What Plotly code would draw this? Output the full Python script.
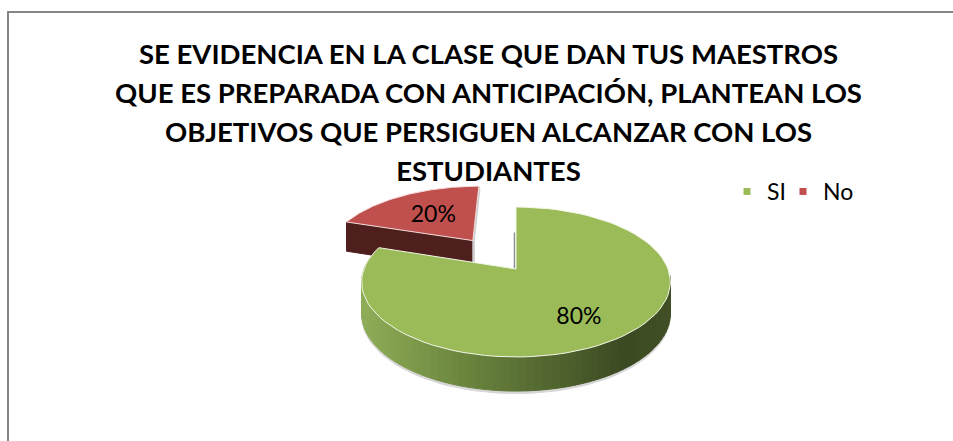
import math
import numpy as np
import plotly.graph_objects as go

# ---- data ----
categories = ["SI", "No"]
values = [80, 20]
top_colors = ["#9BBB59", "#C0504D"]
title_lines = [
    "SE EVIDENCIA EN LA CLASE QUE DAN TUS MAESTROS",
    "QUE ES PREPARADA CON ANTICIPACIÓN, PLANTEAN LOS",
    "OBJETIVOS QUE PERSIGUEN ALCANZAR CON LOS",
    "ESTUDIANTES",
]

# ---- projection of the tilted pie (perspective) ----
CX, CY, RX = 516.0, 269.0, 152.0
PERSP, TILT = 0.1733, -26.1
DEPTH = 31.0
PULL = 0.518


def project(u, v, drop=0.0):
    w = 1 + PERSP * v
    return CX + RX * u / w, (TILT * v + CY) / w + drop * DEPTH / math.sqrt(w)


def arc(a0, a1, ou=0.0, ov=0.0, drop=0.0, n=80):
    pts = [project(math.sin(t) + ou, math.cos(t) + ov, drop)
           for t in np.linspace(a0, a1, n)]
    return [p[0] for p in pts], [p[1] for p in pts]


def poly(xs, ys, color, line=None, width=1):
    return go.Scatter(x=xs, y=ys, mode="lines", fill="toself", fillcolor=color,
                      line=dict(color=line or color, width=width),
                      hoverinfo="skip", showlegend=False)


total = sum(values)
a_green = 2 * math.pi * values[0] / total
mid_red = a_green + math.pi * values[1] / total
ou, ov = PULL * math.sin(mid_red), PULL * math.cos(mid_red)

fig = go.Figure()

# --- exploded slice (drawn first, the big slice overlaps it) ---
ax, ay = project(ou, ov)
bx, by = project(ou, ov, 1)
lx, ly = project(math.sin(a_green) + ou, math.cos(a_green) + ov)
lbx, lby = project(math.sin(a_green) + ou, math.cos(a_green) + ov, 1)
fig.add_trace(poly([ax, lx, lbx, bx, ax], [ay, ly, lby, by, ay], "#4F1F1D"))
tx, ty = project(ou, 1 + ov)
fig.add_trace(poly([ax, tx, tx + 1, ax + 1.5, bx + 1.5, bx, ax],
                   [ay, ty, ty + 3, ay, by, by, ay], "#CFCFCF"))
xs, ys = arc(a_green, 2 * math.pi, ou, ov)
fig.add_trace(poly([ax] + xs + [ax], [ay] + ys + [ay], top_colors[1], "#F3DEDD", 1))

# --- wall of the big slice ---
gx0, gy0 = project(0, 0)
sx, sy = arc(math.radians(95), math.radians(280), drop=1)
fig.add_trace(poly(sx + sx[::-1], [y + 2.5 for y in sy] + [y - 20 for y in sy[::-1]],
                   "#D6D6D6"))

stops = [(0.0, (143, 173, 88)), (0.3, (110, 137, 64)), (0.6, (82, 103, 48)),
         (0.85, (59, 73, 33)), (1.0, (66, 80, 38))]


def wall_color(t):
    for (t0, c0), (t1, c1) in zip(stops, stops[1:]):
        if t <= t1:
            f = (t - t0) / (t1 - t0)
            return "rgb(%d,%d,%d)" % tuple(round(a + (b - a) * f) for a, b in zip(c0, c1))
    return "rgb(66,80,38)"


edges = np.radians(np.linspace(95, 280, 71))
left, right = CX - RX * 1.0154, CX + RX * 1.0154
for a0, a1 in zip(edges, edges[1:]):
    tx0, ty0 = arc(a0, a1, n=3)
    bx0, by0 = arc(a1, a0, drop=1, n=3)
    t = min(1, max(0, (tx0[1] - left) / (right - left)))
    fig.add_trace(poly(tx0 + bx0 + tx0[:1], ty0 + by0 + ty0[:1], wall_color(t)))

# --- thin cut face beside the big slice ---
kx, ky = project(0, 0.55)
fig.add_trace(go.Scatter(x=[kx - 1.5, gx0 - 1.5], y=[ky, gy0], mode="lines",
                         line=dict(color="#8C8C8C", width=1.5),
                         hoverinfo="skip", showlegend=False))

# --- top face of the big slice ---
xs, ys = arc(0, a_green)
fig.add_trace(poly([gx0] + xs + [gx0], [gy0] + ys + [gy0], top_colors[0], "#F2F6E8", 1))

# --- percentage labels, placed from the slice angles ---
lab = [project(0.37, -0.61),
       project(ou + 0.54 * math.sin(mid_red), ov + 0.50 * math.cos(mid_red))]
fig.add_trace(go.Scatter(
    x=[p[0] for p in lab], y=[p[1] for p in lab], mode="text",
    text=[f"{round(100 * v / total)}%" for v in values],
    textfont=dict(family="Lato", size=23, color="#000000"),
    hoverinfo="skip", showlegend=False))

# --- legend entries (one legend box each, so their spacing can be set) ---
for name, color, legend_id in zip(categories, top_colors, ["legend", "legend2"]):
    fig.add_trace(go.Scatter(x=[None], y=[None], mode="markers", name=name,
                             legend=legend_id, showlegend=True,
                             marker=dict(symbol="square", size=7, color=color)))

title_html = "<br>".join(f'<span style="font-size:27.5px">{s}</span>' for s in title_lines)
legend_style = dict(orientation="h", y=1 - 170 / 441, xanchor="left", yanchor="top",
                    font=dict(family="Lato", size=23, color="#000000"),
                    bgcolor="rgba(0,0,0,0)", itemwidth=30)

fig.update_layout(
    width=953, height=441, margin=dict(l=0, r=0, t=0, b=0),
    paper_bgcolor="#FFFFFF", plot_bgcolor="#FFFFFF",
    xaxis=dict(range=[0, 953], visible=False, fixedrange=True),
    yaxis=dict(range=[441, 0], visible=False, fixedrange=True),
    title=dict(text=title_html, x=488.5 / 953, xanchor="center",
               y=1 - 64 / 441, yanchor="top",
               font=dict(family="Lato", size=30, color="#000000", weight="bold")),
    legend=dict(x=727 / 953, **legend_style),
    legend2=dict(x=783 / 953, **legend_style),
    shapes=[dict(type="rect", xref="x", yref="y", x0=8, y0=12, x1=970, y1=470,
                 line=dict(color="#868686", width=2))],
)
fig.write_html("out.html", config={"displayModeBar": False},
               post_script="document.body.style.margin='0';")
